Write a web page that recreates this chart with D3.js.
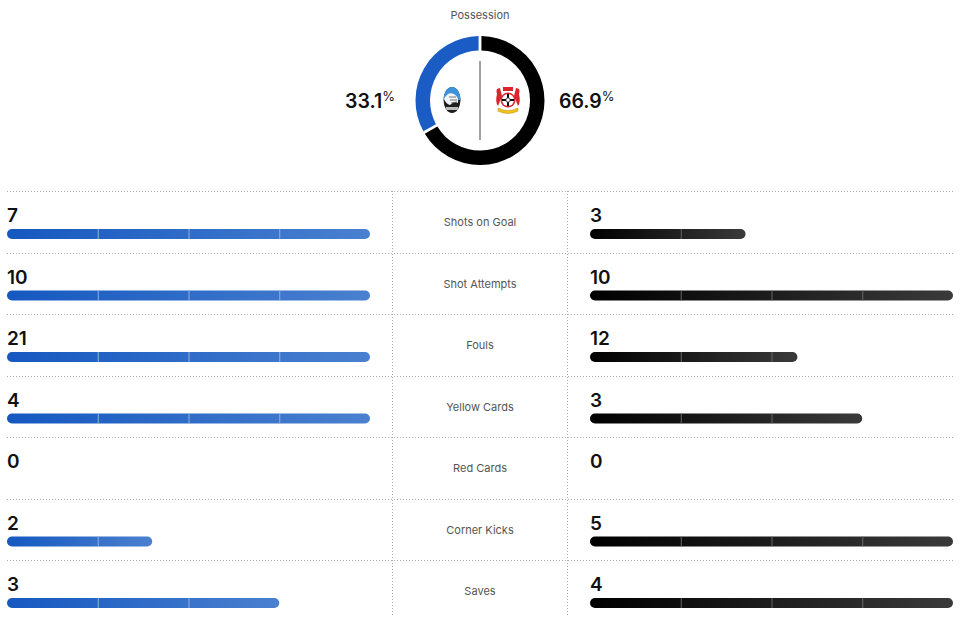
<!DOCTYPE html>
<html>
<head>
<meta charset="utf-8">
<script src="https://cdn.jsdelivr.net/npm/d3@7.9.0/dist/d3.min.js"></script>
<style>
  body { margin: 0; background: #fff; }
  svg { display: block; font-family: Inter, "Noto Sans", sans-serif; }
</style>
</head>
<body>
<svg id="chart"></svg>
<script>
// Match stats: Atalanta (left, blue) vs Leverkusen (right, black)
const statLabels = ['Shots on Goal', 'Shot Attempts', 'Fouls', 'Yellow Cards', 'Red Cards', 'Corner Kicks', 'Saves'];
const homeValues = [7, 10, 21, 4, 0, 2, 3];
const awayValues = [3, 10, 12, 3, 0, 5, 4];
const possession = [33.1, 66.9]; // home, away

const width = 961;
const height = 617;

const svg = d3.select('#chart')
    .attr('width', width)
    .attr('height', height)
    .attr('viewBox', [0, 0, width, height]);

const defs = svg.append('defs');
const blueGrad = defs.append('linearGradient').attr('id', 'blueGrad');
blueGrad.append('stop').attr('offset', '0%').attr('stop-color', '#1558c0');
blueGrad.append('stop').attr('offset', '100%').attr('stop-color', '#4a80cf');
const blackGrad = defs.append('linearGradient').attr('id', 'blackGrad');
blackGrad.append('stop').attr('offset', '0%').attr('stop-color', '#000');
blackGrad.append('stop').attr('offset', '100%').attr('stop-color', '#3a3a3a');

// ---- Possession donut ----
const cx = 480, cy = 100.5;

svg.append('text')
    .attr('x', cx).attr('y', 19)
    .attr('text-anchor', 'middle')
    .attr('font-size', 11)
    .attr('fill', '#555')
    .text('Possession');

// away first so it runs clockwise from 12 o'clock, home fills the rest
const pie = d3.pie().sort(null).padAngle(0.035);
const arcs = pie([possession[1], possession[0]]);
const arc = d3.arc().innerRadius(50).outerRadius(64.5);

svg.append('g')
    .attr('transform', `translate(${cx},${cy})`)
    .selectAll('path')
    .data(arcs)
    .join('path')
    .attr('d', arc)
    .attr('fill', (d, i) => i === 0 ? '#000' : '#1a5bc4');

svg.append('line')
    .attr('x1', cx).attr('x2', cx)
    .attr('y1', 61).attr('y2', 140)
    .attr('stroke', '#444').attr('stroke-width', 1);

// Atalanta crest (rough)
const ata = svg.append('g').attr('transform', 'translate(452,100)');
ata.append('ellipse').attr('rx', 8.5).attr('ry', 13).attr('fill', '#1e1e1e');
ata.append('clipPath').attr('id', 'ataClip')
    .append('ellipse').attr('rx', 8.5).attr('ry', 13);
const ataIn = ata.append('g').attr('clip-path', 'url(#ataClip)');
ataIn.append('rect').attr('x', -9).attr('y', -13).attr('width', 18).attr('height', 13).attr('fill', '#3d93dc');
ataIn.append('path')
    .attr('d', 'M-8,-1 Q-4,-9 2,-6 Q7,-3 6,3 Q2,1 -2,5 Q-6,4 -8,-1 Z')
    .attr('fill', '#f2f5f8');
ataIn.append('path')
    .attr('d', 'M-3,-3 L4,-3 M-2,0 L5,0 M-1,3 L5,2')
    .attr('stroke', '#555').attr('stroke-width', 0.8);
ataIn.append('rect').attr('x', -6).attr('y', 7).attr('width', 12).attr('height', 3).attr('fill', '#bbb');

// Leverkusen crest (rough)
const lev = svg.append('g').attr('transform', 'translate(508,100)');
lev.append('path')
    .attr('d', 'M-11,-6 Q-13,-12 -8,-12 L-6,-4 L-10,6 Q-13,2 -11,-6 Z')
    .attr('fill', '#d9262c');
lev.append('path')
    .attr('d', 'M11,-6 Q13,-12 8,-12 L6,-4 L10,6 Q13,2 11,-6 Z')
    .attr('fill', '#d9262c');
lev.append('rect').attr('x', -5).attr('y', -13).attr('width', 10).attr('height', 4).attr('fill', '#d9262c');
lev.append('circle').attr('r', 7.5).attr('fill', '#d9262c');
lev.append('circle').attr('r', 6).attr('fill', '#fff');
lev.append('path').attr('d', 'M-6,0 H6 M0,-6 V6').attr('stroke', '#111').attr('stroke-width', 2);
lev.append('circle').attr('r', 2.2).attr('fill', '#fff').attr('stroke', '#111').attr('stroke-width', 0.8);
lev.append('path')
    .attr('d', 'M-10,8 Q0,13 10,8 L10,11 Q0,16 -10,11 Z')
    .attr('fill', '#f2c318').attr('stroke', '#b88a10').attr('stroke-width', 0.5);

const pctL = svg.append('text')
    .attr('x', 395).attr('y', 108)
    .attr('text-anchor', 'end')
    .attr('fill', '#111');
pctL.append('tspan').attr('font-size', 19.5).attr('font-weight', 600).text(possession[0].toFixed(1));
pctL.append('tspan').attr('font-size', 13).attr('dy', -7).text('%');

const pctR = svg.append('text')
    .attr('x', 559).attr('y', 108)
    .attr('fill', '#111');
pctR.append('tspan').attr('font-size', 19.5).attr('font-weight', 600).text(possession[1].toFixed(1));
pctR.append('tspan').attr('font-size', 13).attr('dy', -7).text('%');

// ---- Stats table ----
const top0 = 191;
const rowH = 61.5;
const leftX0 = 7, leftX1 = 370;
const rightX0 = 590, rightX1 = 953;
const barW = leftX1 - leftX0;

const y = d3.scaleBand()
    .domain(statLabels)
    .range([top0, top0 + rowH * statLabels.length]);

const grid = svg.append('g')
    .attr('stroke', '#aaa')
    .attr('stroke-width', 1)
    .attr('stroke-dasharray', '1,2');

grid.selectAll('line.h')
    .data(statLabels)
    .join('line')
    .attr('class', 'h')
    .attr('x1', 7).attr('x2', 953)
    .attr('y1', d => Math.round(y(d)) + 0.5)
    .attr('y2', d => Math.round(y(d)) + 0.5);

[392.5, 567.5].forEach(x => {
    grid.append('line')
        .attr('x1', x).attr('x2', x)
        .attr('y1', top0).attr('y2', height);
});

const rows = svg.append('g')
    .selectAll('g')
    .data(statLabels.map((label, i) => ({ label, home: homeValues[i], away: awayValues[i] })))
    .join('g')
    .attr('transform', d => `translate(0,${y(d.label)})`);

rows.append('text')
    .attr('x', 480).attr('y', 35)
    .attr('text-anchor', 'middle')
    .attr('font-size', 11)
    .attr('fill', '#555')
    .text(d => d.label);

rows.append('text')
    .attr('x', leftX0).attr('y', 31)
    .attr('font-size', 19).attr('font-weight', 600)
    .attr('fill', '#111')
    .text(d => d.home);

rows.append('text')
    .attr('x', rightX0).attr('y', 31)
    .attr('font-size', 19).attr('font-weight', 600)
    .attr('fill', '#111')
    .text(d => d.away);

// bar length relative to the larger of the two values
const frac = (v, d) => {
    const m = Math.max(d.home, d.away);
    return m === 0 ? 0 : v / m;
};
const xs = d3.scaleLinear().domain([0, 1]).range([0, barW]);

rows.filter(d => d.home > 0).append('rect')
    .attr('x', leftX0).attr('y', 38)
    .attr('width', d => xs(frac(d.home, d))).attr('height', 10)
    .attr('rx', 5)
    .attr('fill', 'url(#blueGrad)');

rows.filter(d => d.away > 0).append('rect')
    .attr('x', rightX0).attr('y', 38)
    .attr('width', d => xs(frac(d.away, d))).attr('height', 10)
    .attr('rx', 5)
    .attr('fill', 'url(#blackGrad)');

// quarter marks inside bars
const quarters = [0.25, 0.5, 0.75];
rows.each(function (d) {
    const g = d3.select(this);
    quarters.forEach(q => {
        if (frac(d.home, d) > q) {
            g.append('line')
                .attr('x1', leftX0 + xs(q) + 0.5).attr('x2', leftX0 + xs(q) + 0.5)
                .attr('y1', 38).attr('y2', 48)
                .attr('stroke', '#8fb0e3').attr('stroke-width', 1);
        }
        if (frac(d.away, d) > q) {
            g.append('line')
                .attr('x1', rightX0 + xs(q) + 0.5).attr('x2', rightX0 + xs(q) + 0.5)
                .attr('y1', 38).attr('y2', 48)
                .attr('stroke', '#666').attr('stroke-width', 1);
        }
    });
});
</script>
</body>
</html>
